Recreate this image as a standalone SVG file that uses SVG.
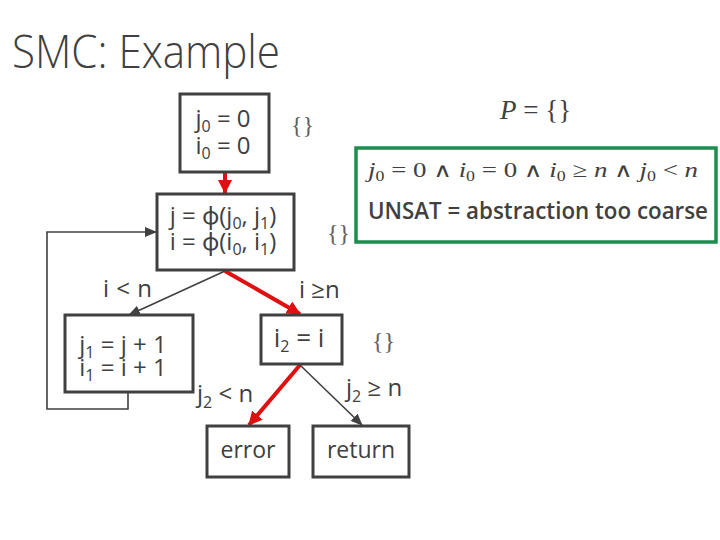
<svg xmlns="http://www.w3.org/2000/svg" width="720" height="540" viewBox="0 0 720 540">
<style>
.box{fill:#fff;stroke:#404040;stroke-width:3}
.t{font-family:"Open Sans","Noto Sans",sans-serif;font-size:24px;fill:#404040;text-anchor:middle}
.l{font-family:"Open Sans","Noto Sans",sans-serif;font-size:24px;fill:#404040}
.s{font-size:16px}
.br{font-family:"Liberation Serif",serif;font-size:24px;fill:#606060}
.m{font-family:"Liberation Serif",serif;font-size:21px;fill:#404040}
.and{font-family:"DejaVu Sans",sans-serif;font-size:20px}
.thin{stroke:#404040;stroke-width:1.6;fill:none}
.red{stroke:#e01010;stroke-width:4;fill:none}
</style>
<defs>
<marker id="ah" markerUnits="userSpaceOnUse" markerWidth="12" markerHeight="10" refX="11" refY="5" orient="auto"><path d="M0,0 L12,5 L0,10 z" fill="#404040"/></marker>
<marker id="ahr" markerUnits="userSpaceOnUse" markerWidth="14" markerHeight="14" refX="13" refY="7" orient="auto"><path d="M0,0 L14,7 L0,14 z" fill="#e01010"/></marker>
</defs>
<text x="12" y="68" font-family="'Open Sans',sans-serif" font-weight="300" font-size="46" fill="#404040" textLength="268" lengthAdjust="spacingAndGlyphs">SMC: Example</text>

<g id="connectors">
<line class="red" x1="225" y1="172" x2="225" y2="193" marker-end="url(#ahr)"/>
<line class="thin" x1="225" y1="271" x2="129" y2="315" marker-end="url(#ah)"/>
<line class="red" x1="225" y1="271" x2="300" y2="314" marker-end="url(#ahr)"/>
<polyline class="thin" points="128,392 128,409 47,409 47,232 156,232" marker-end="url(#ah)"/>
<line class="red" x1="300" y1="365" x2="249" y2="425" marker-end="url(#ahr)"/>
<line class="thin" x1="300" y1="365" x2="362" y2="425" marker-end="url(#ah)"/>
<text class="l" x="103" y="297" textLength="49" lengthAdjust="spacing">i &lt; n</text>
<text class="l" x="299" y="298">i ≥n</text>
<text class="l" x="197" y="402">j<tspan class="s" dy="6">2</tspan><tspan dy="-6"> &lt; n</tspan></text>
<text class="l" x="346" y="396">j<tspan class="s" dy="6">2</tspan><tspan dy="-6"> ≥ n</tspan></text>
</g>

<g id="n1">
<rect class="box" x="180" y="94" width="89" height="78"/>
<text class="t" x="223" y="127">j<tspan class="s" dy="5">0</tspan><tspan dy="-5"> = 0</tspan></text>
<text class="t" x="223" y="154">i<tspan class="s" dy="5">0</tspan><tspan dy="-5"> = 0</tspan></text>
</g>
<text class="br" x="291" y="133">{}</text>

<g id="n2">
<rect class="box" x="157" y="194" width="137" height="76"/>
<text class="t" x="223" y="224">j = ϕ(j<tspan class="s" dy="5">0</tspan><tspan dy="-5">, j</tspan><tspan class="s" dy="5">1</tspan><tspan dy="-5">)</tspan></text>
<text class="t" x="223" y="250">i = ϕ(i<tspan class="s" dy="5">0</tspan><tspan dy="-5">, i</tspan><tspan class="s" dy="5">1</tspan><tspan dy="-5">)</tspan></text>
</g>
<text class="br" x="327" y="241">{}</text>

<g id="n3">
<rect class="box" x="65" y="315" width="128" height="77"/>
<text class="t" x="123" y="353">j<tspan class="s" dy="5">1</tspan><tspan dy="-5"> = j + 1</tspan></text>
<text class="t" x="123" y="376">i<tspan class="s" dy="5">1</tspan><tspan dy="-5"> = i + 1</tspan></text>
</g>

<g id="n4">
<rect class="box" x="261" y="315" width="81" height="49"/>
<text class="t" x="299" y="347" style="font-size:26px">i<tspan class="s" dy="5">2</tspan><tspan dy="-5"> = i</tspan></text>
</g>
<text class="br" x="372" y="349">{}</text>

<g id="n5">
<rect class="box" x="207" y="426" width="82" height="51"/>
<text class="t" x="248" y="458" style="font-size:23px">error</text>
</g>

<g id="n6">
<rect class="box" x="313" y="426" width="96" height="51"/>
<text class="t" x="361" y="458" style="font-size:23px">return</text>
</g>

<text class="m" x="500" y="119" style="font-size:27px"><tspan font-style="italic">P</tspan> = {}</text>

<g id="unsat">
<rect x="356" y="148" width="360" height="94" fill="none" stroke="#1e8c4e" stroke-width="3.5"/>
<text class="m" x="368" y="177" textLength="330" lengthAdjust="spacingAndGlyphs"><tspan font-style="italic">j</tspan><tspan font-size="14" dy="4">0</tspan><tspan dy="-4"> = 0 </tspan><tspan class="and">∧</tspan><tspan> </tspan><tspan font-style="italic">i</tspan><tspan font-size="14" dy="4">0</tspan><tspan dy="-4"> = 0 </tspan><tspan class="and">∧</tspan><tspan> </tspan><tspan font-style="italic">i</tspan><tspan font-size="14" dy="4">0</tspan><tspan dy="-4"> ≥ </tspan><tspan font-style="italic">n</tspan><tspan> </tspan><tspan class="and">∧</tspan><tspan> </tspan><tspan font-style="italic">j</tspan><tspan font-size="14" dy="4">0</tspan><tspan dy="-4"> &lt; </tspan><tspan font-style="italic">n</tspan></text>
<text x="368" y="219" font-family="'Open Sans',sans-serif" font-weight="600" font-size="24" fill="#404040" textLength="340" lengthAdjust="spacingAndGlyphs">UNSAT = abstraction too coarse</text>
</g>
</svg>
